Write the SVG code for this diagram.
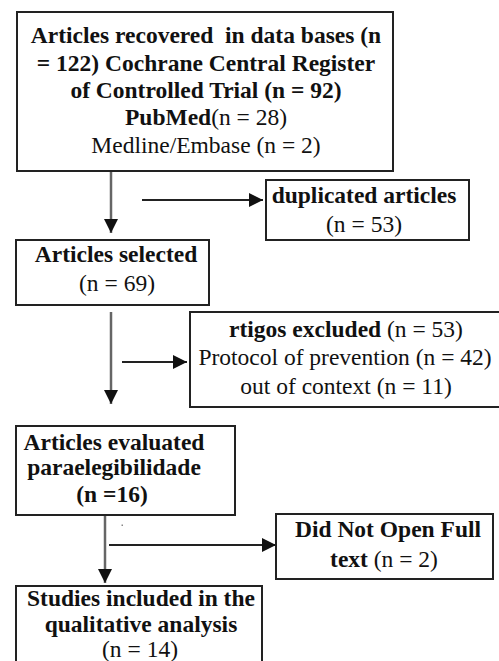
<svg xmlns="http://www.w3.org/2000/svg" width="499" height="661" viewBox="0 0 499 661">
<defs>
<style>
.box{fill:#fff;stroke:#222;stroke-width:2}
text{font-family:"Liberation Serif","Times New Roman",serif;font-size:23.5px;fill:#111;text-anchor:middle}
.b{font-weight:bold}
.v{stroke:#666;stroke-width:2.5;fill:none}
.h{stroke:#222;stroke-width:2;fill:none}
</style>
<marker id="ah" markerUnits="userSpaceOnUse" markerWidth="14" markerHeight="14" viewBox="0 0 14 14" refX="14" refY="7" orient="auto">
<path d="M0,0 L14,7 L0,14 Z" fill="#111"/>
</marker>
</defs>
<rect width="499" height="661" fill="#fff"/>
<g id="connectors">
<line class="v" x1="111" y1="171" x2="111" y2="233" marker-end="url(#ah)"/>
<line class="h" x1="142" y1="200" x2="263" y2="200" marker-end="url(#ah)"/>
<line class="v" x1="111" y1="312" x2="111" y2="404" marker-end="url(#ah)"/>
<line class="h" x1="122" y1="362" x2="187" y2="362" marker-end="url(#ah)"/>
<line class="v" x1="105" y1="515" x2="105" y2="583" marker-end="url(#ah)"/>
<line class="h" x1="109" y1="545" x2="276" y2="545" marker-end="url(#ah)"/>
<rect x="121.5" y="524.5" width="1.5" height="1.5" fill="#888"/>
</g>
<g id="n1">
<rect class="box" x="17" y="12" width="376" height="159"/>
<text x="206" y="43" class="b">Articles recovered &#160;in data bases (n</text>
<text x="206" y="71" class="b">= 122) Cochrane Central Register</text>
<text x="206" y="98" class="b">of Controlled Trial (n = 92)</text>
<text x="206" y="125"><tspan class="b">PubMed</tspan>(n = 28)</text>
<text x="206" y="153">Medline/Embase (n = 2)</text>
</g>
<g id="n2">
<rect class="box" x="266" y="180" width="203" height="60"/>
<text x="364" y="203" class="b">duplicated articles</text>
<text x="364" y="232">(n = 53)</text>
</g>
<g id="n3">
<rect class="box" x="16" y="240" width="193" height="65"/>
<text x="116" y="262" class="b">Articles selected</text>
<text x="117" y="291">(n = 69)</text>
</g>
<g id="n4">
<rect class="box" x="190" y="312" width="320" height="95"/>
<text x="346" y="337"><tspan class="b">rtigos excluded</tspan> (n = 53)</text>
<text x="345" y="365">Protocol of prevention (n = 42)</text>
<text x="346" y="394">out of context (n = 11)</text>
</g>
<g id="n5">
<rect class="box" x="16" y="426" width="219" height="89"/>
<text x="114" y="450" class="b">Articles evaluated</text>
<text x="114" y="475" class="b">paraelegibilidade</text>
<text x="112" y="502" class="b">(n =16)</text>
</g>
<g id="n6">
<rect class="box" x="276" y="514" width="217" height="65"/>
<text x="388" y="537" class="b">Did Not Open Full</text>
<text x="384" y="567"><tspan class="b">text</tspan> (n = 2)</text>
</g>
<g id="n7">
<rect class="box" x="16" y="586" width="246" height="90"/>
<text x="141" y="606" class="b">Studies included in the</text>
<text x="141" y="632" class="b">qualitative analysis</text>
<text x="140" y="657">(n = 14)</text>
</g>
</svg>
